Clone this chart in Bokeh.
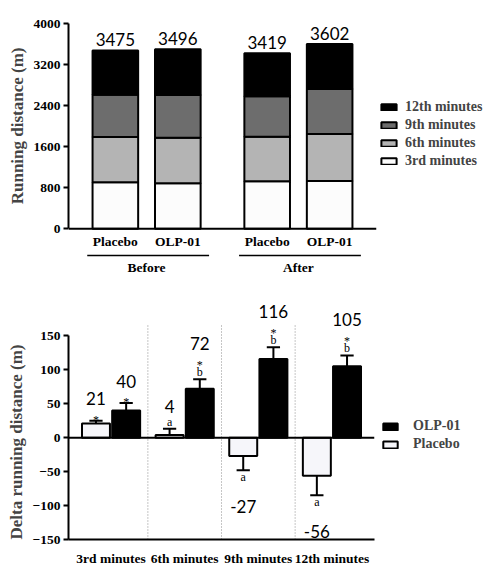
from bokeh.core.properties import value
from bokeh.embed import file_html
from bokeh.layouts import column
from bokeh.models import (ColumnDataSource, FactorRange, FixedTicker, Legend,
                          LegendItem, Range1d, Span, Title)
from bokeh.plotting import figure
from bokeh.resources import INLINE
from bokeh.transform import dodge

SERIF = "Liberation Serif"
SANS = "Lato"

# top panel: cumulative running distance (m) reached at each checkpoint
periods = ["Before", "After"]
groups = ["Placebo", "OLP-01"]
dist_3rd = [905, 890, 926, 930]
dist_6th = [1790, 1775, 1794, 1847]
dist_9th = [2610, 2608, 2583, 2726]
dist_12th = [3475, 3496, 3419, 3602]
stack_names = ["3rd minutes", "6th minutes", "9th minutes", "12th minutes"]
stack_colors = ["#fcfcfc", "#b4b4b4", "#6d6d6d", "#000000"]
dist_ticks = [0, 800, 1600, 2400, 3200, 4000]

# bottom panel: change in running distance (m), after - before
minutes = ["3rd minutes", "6th minutes", "9th minutes", "12th minutes"]
placebo_delta = [21, 4, -27, -56]
placebo_sem = [4, 9, 21, 29]
placebo_star = ["*", "", "", ""]
placebo_letter = ["", "a", "a", "a"]
olp_delta = [40, 72, 116, 105]
olp_sem = [11, 14, 17, 16]
olp_star = ["*", "*", "*", "*"]
olp_letter = ["", "b", "b", "b"]
delta_ticks = [-150, -100, -50, 0, 50, 100, 150]


def style_yaxis(p, ticks):
    ax = p.yaxis[0]
    ax.ticker = FixedTicker(ticks=ticks)
    ax.bounds = (ticks[0], ticks[-1])
    ax.axis_line_width = 2
    ax.major_tick_line_width = 2
    ax.major_tick_out = 5
    ax.major_tick_in = 0
    ax.minor_tick_line_color = None
    ax.major_label_standoff = 3
    ax.major_label_text_font = SERIF
    ax.major_label_text_font_style = "bold"
    ax.major_label_text_font_size = "13.5px"
    ax.major_label_text_color = "black"


def ylabel(p, text, align, offset):
    p.add_layout(Title(text=text, align=align, offset=offset, standoff=8,
                       text_font=SERIF, text_font_style="bold",
                       text_font_size="17px"), "left")


def legend(items, x, y, standoff, gw, gh):
    return Legend(items=items, location=(x, y), padding=0, margin=0,
                  spacing=2, border_line_color=None,
                  background_fill_alpha=0, label_standoff=standoff,
                  glyph_width=gw, glyph_height=gh, label_height=14,
                  label_text_font=SERIF, label_text_font_style="bold",
                  label_text_font_size="14px")


# ---------------- top panel ----------------
bars = [(pd, g) for pd in periods for g in groups]
top = figure(frame_width=308, frame_height=270,
             x_range=FactorRange(factors=bars, factor_padding=0,
                                 group_padding=0.43, range_padding=0.25,
                                 range_padding_units="absolute"),
             y_range=Range1d(-1260, 4000), x_axis_location=None,
             output_backend="svg", toolbar_location=None,
             min_border_left=64, min_border_right=110,
             min_border_top=23, min_border_bottom=5)
top.grid.visible = False
top.outline_line_color = None
style_yaxis(top, dist_ticks)
ylabel(top, "Running distance (m)", "right", 24)

cum = [[0] * len(bars), dist_3rd, dist_6th, dist_9th, dist_12th]
stack_r = []
for i, color in enumerate(stack_colors):
    stack_r.append(top.vbar(x=bars, bottom=cum[i], top=cum[i + 1], width=0.73,
                            fill_color=color, line_color="black",
                            line_width=2))

top.add_layout(Span(location=0, dimension="width", line_color="black",
                    line_width=2))
top.text(x=bars, y=dist_12th, text=[str(v) for v in dist_12th],
         text_align="center", text_baseline="bottom", y_offset=-4,
         text_font=value(SANS), text_font_size="17px", text_color="black")
top.text(x=bars, y=[0] * len(bars), text=[b[1] for b in bars],
         text_align="center", text_baseline="middle", y_offset=13,
         text_font=value(SERIF), text_font_style="bold",
         text_font_size="13.5px", text_color="black")
UNDERLINE_Y = -520
top.segment(x0=[(pd, groups[0], -0.45) for pd in periods],
            x1=[(pd, groups[-1], 0.5) for pd in periods],
            y0=[UNDERLINE_Y] * 2, y1=[UNDERLINE_Y] * 2,
            line_color="black", line_width=1.5)
top.text(x=periods, y=[0] * len(periods), text=periods,
         text_align="center", text_baseline="middle", y_offset=39,
         text_font=value(SERIF), text_font_style="bold",
         text_font_size="13.5px", text_color="black")

top_items = [LegendItem(label=n, renderers=[r])
             for n, r in zip(stack_names, stack_r)][::-1]
top.add_layout(legend(top_items, 3, 124, 7, 19, 8), "right")

# ---------------- bottom panel ----------------
bot = figure(frame_width=306, frame_height=239,
             x_range=FactorRange(factors=minutes, range_padding=0.078,
                                 range_padding_units="absolute"),
             y_range=Range1d(-150, 202),
             output_backend="svg", toolbar_location=None,
             min_border_left=64, min_border_right=112,
             min_border_top=2, min_border_bottom=24)
bot.grid.visible = False
bot.outline_line_color = None
style_yaxis(bot, delta_ticks)
ylabel(bot, "Delta running distance (m)", "left", 0)

xax = bot.xaxis[0]
xax.axis_line_width = 2
xax.major_tick_line_color = None
xax.minor_tick_line_color = None
xax.major_label_standoff = 5
xax.major_label_text_font = SERIF
xax.major_label_text_font_style = "bold"
xax.major_label_text_font_size = "13.5px"
xax.major_label_text_color = "black"

bot.segment(x0=[(m, 0.5) for m in minutes[:-1]],
            x1=[(m, 0.5) for m in minutes[:-1]],
            y0=[delta_ticks[0]] * 3, y1=[167] * 3,
            line_color="#8c8c8c", line_width=1, line_dash="1 2")
bot.add_layout(Span(location=0, dimension="width", line_color="black",
                    line_width=2))


def bar_source(deltas, sems, stars, letters):
    up = [d >= 0 for d in deltas]
    away = [-1 if u else 1 for u in up]  # screen direction away from the bar
    tip = [d + s if u else d - s for d, s, u in zip(deltas, sems, up)]
    n_marks = [bool(s) + bool(l) for s, l in zip(stars, letters)]
    return ColumnDataSource(dict(
        minute=minutes, delta=deltas, tip=tip,
        star=stars, letter=letters, label=[str(d) for d in deltas],
        letter_off=[a * 7 for a in away],
        star_off=[a * (14 if l else 1) for a, l in zip(away, letters)],
        label_off=[a * (36 if (n == 2 or not u) else 22)
                   for a, n, u in zip(away, n_marks, up)],
    ))


series = [
    ("Placebo", -0.205, "#f6f6fa",
     bar_source(placebo_delta, placebo_sem, placebo_star, placebo_letter)),
    ("OLP-01", 0.205, "#000000",
     bar_source(olp_delta, olp_sem, olp_star, olp_letter)),
]
bot_r = {}
for name, off, color, src in series:
    xr = bot.x_range
    bot_r[name] = bot.vbar(x=dodge("minute", off, range=xr), top="delta",
                           bottom=0, width=0.38, fill_color=color,
                           line_color="black", line_width=2, source=src)
    bot.segment(x0=dodge("minute", off, range=xr), y0="delta",
                x1=dodge("minute", off, range=xr), y1="tip",
                line_color="black", line_width=2, source=src)
    bot.segment(x0=dodge("minute", off - 0.09, range=xr), y0="tip",
                x1=dodge("minute", off + 0.09, range=xr), y1="tip",
                line_color="black", line_width=2, source=src)
    for col, offcol in (("letter", "letter_off"), ("star", "star_off")):
        bot.text(x=dodge("minute", off, range=xr), y="tip", text=col,
                 y_offset=offcol, text_align="center",
                 text_baseline="middle", text_font=value(SERIF),
                 text_font_size="12px", text_color="black", source=src)
    bot.text(x=dodge("minute", off, range=xr), y="tip", text="label",
             y_offset="label_off", text_align="center",
             text_baseline="middle", text_font=value(SANS),
             text_font_size="17px", text_color="black", source=src)

bot_items = [LegendItem(label="OLP-01", renderers=[bot_r["OLP-01"]]),
             LegendItem(label="Placebo", renderers=[bot_r["Placebo"]])]
bot.add_layout(legend(bot_items, 7, 87, 14, 18, 9), "right")

layout = column(top, bot)
open("out.html", "w").write(file_html(layout, INLINE))
